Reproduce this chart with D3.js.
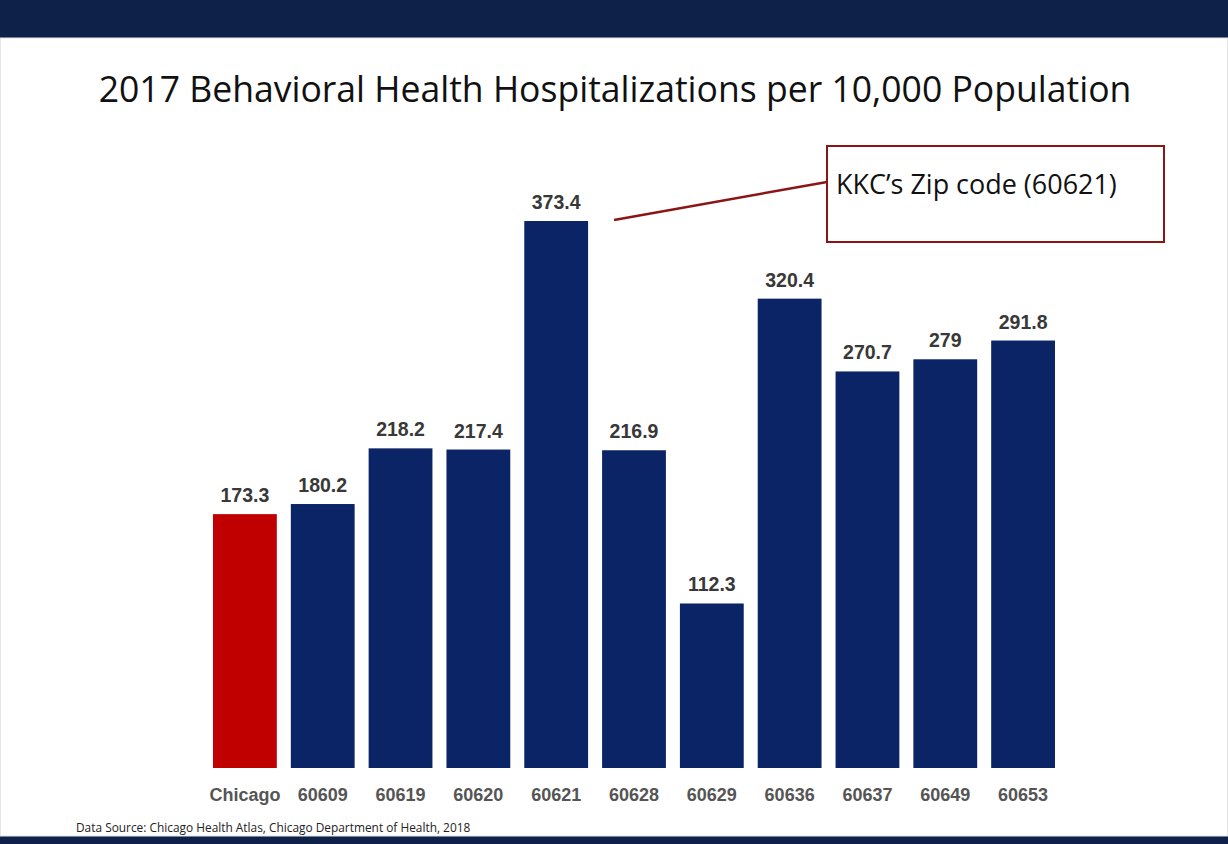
<!DOCTYPE html>
<html>
<head>
<meta charset="utf-8">
<script src="https://cdn.jsdelivr.net/npm/d3@7"></script>
<style>
  html, body { margin: 0; padding: 0; background: #fff; }
  svg { display: block; }
</style>
</head>
<body>
<svg id="chart" width="1228" height="844"></svg>
<script>
// chart data
var categories = ["Chicago", "60609", "60619", "60620", "60621", "60628", "60629", "60636", "60637", "60649", "60653"];
var rates = [173.3, 180.2, 218.2, 217.4, 373.4, 216.9, 112.3, 320.4, 270.7, 279, 291.8];
var valueLabels = ["173.3", "180.2", "218.2", "217.4", "373.4", "216.9", "112.3", "320.4", "270.7", "279", "291.8"];
var highlight = "Chicago";
var calloutTarget = "60621";

var titleText = "2017 Behavioral Health Hospitalizations per 10,000 Population";
var calloutText = "KKC\u2019s Zip code (60621)";
var sourceText = "Data Source: Chicago Health Atlas, Chicago Department of Health, 2018";

var svg = d3.select("#chart");
var W = 1228, H = 844;

/*
 * shrink or grow a text node's font so it spans a given width
 */
function fitWidth(sel, base, target) {
  var w = sel.node().getComputedTextLength();
  sel.attr("font-size", base * target / w);
}

// slide frame
svg.append("rect").attr("x", 0).attr("y", 0).attr("width", W).attr("height", H).attr("fill", "#fff");
svg.append("rect").attr("x", 0).attr("y", 0).attr("width", W).attr("height", 38).attr("fill", "#0e2249");
svg.append("rect").attr("x", 0).attr("y", 836).attr("width", W).attr("height", 8).attr("fill", "#0e2249");
svg.append("rect").attr("x", 0.5).attr("y", 38).attr("width", W - 1).attr("height", 798)
    .attr("fill", "none").attr("stroke", "#e4e6ea").attr("stroke-width", 1);

// title
var title = svg.append("text")
    .attr("x", 615).attr("y", 102)
    .attr("text-anchor", "middle")
    .attr("font-family", "'Open Sans', 'Noto Sans', sans-serif")
    .attr("font-size", 34)
    .attr("fill", "#111")
    .text(titleText);
fitWidth(title, 34, 1033);

var x = d3.scaleBand()
    .domain(categories)
    .range([213, 1055])
    .paddingInner(0.18)
    .paddingOuter(0);

var y = d3.scaleLinear()
    .domain([0, 373.4])
    .range([768, 221]);

var data = categories.map(function (c, i) {
  return { cat: c, value: rates[i], label: valueLabels[i] };
});

var g = svg.append("g");

g.selectAll("rect.bar")
    .data(data)
    .enter().append("rect")
    .attr("class", "bar")
    .attr("x", function (d) { return x(d.cat); })
    .attr("y", function (d) { return y(d.value); })
    .attr("width", x.bandwidth())
    .attr("height", function (d) { return y(0) - y(d.value); })
    .attr("fill", function (d) { return d.cat === highlight ? "#c00000" : "#0a2466"; });

g.selectAll("text.val")
    .data(data)
    .enter().append("text")
    .attr("class", "val")
    .attr("x", function (d) { return x(d.cat) + x.bandwidth() / 2; })
    .attr("y", function (d) { return y(d.value) - 12; })
    .attr("text-anchor", "middle")
    .attr("font-family", "'Liberation Sans', Arial, sans-serif")
    .attr("font-weight", "bold")
    .attr("font-size", 19.5)
    .attr("fill", "#383838")
    .text(function (d) { return d.label; });

// x axis labels
var xAxis = d3.axisBottom(x).tickSize(0).tickPadding(0);
var ax = svg.append("g")
    .attr("transform", "translate(0," + 768 + ")")
    .call(xAxis);
ax.select(".domain").remove();
ax.selectAll("text")
    .attr("dy", 0)
    .attr("y", 33)
    .attr("font-family", "'Liberation Sans', Arial, sans-serif")
    .attr("font-weight", "bold")
    .attr("font-size", 18)
    .attr("fill", "#555");

// callout
var boxX = 827, boxY = 146, boxW = 337, boxH = 96;
svg.append("line")
    .attr("x1", x(calloutTarget) + x.bandwidth() + 26)
    .attr("y1", y(373.4) - 1)
    .attr("x2", boxX)
    .attr("y2", 182)
    .attr("stroke", "#8b1414")
    .attr("stroke-width", 2.5);
svg.append("rect")
    .attr("x", boxX).attr("y", boxY)
    .attr("width", boxW).attr("height", boxH)
    .attr("fill", "#fff")
    .attr("stroke", "#8b1414")
    .attr("stroke-width", 2);
var callout = svg.append("text")
    .attr("x", 836).attr("y", 194)
    .attr("font-family", "'Open Sans', 'Noto Sans', sans-serif")
    .attr("font-size", 24)
    .attr("fill", "#111")
    .text(calloutText);
fitWidth(callout, 24, 281);

// source note
var source = svg.append("text")
    .attr("x", 76).attr("y", 832)
    .attr("font-family", "'Liberation Sans Narrow', 'Open Sans', sans-serif")
    .attr("font-size", 11)
    .attr("fill", "#222")
    .text(sourceText);
fitWidth(source, 11, 395);
</script>
</body>
</html>
